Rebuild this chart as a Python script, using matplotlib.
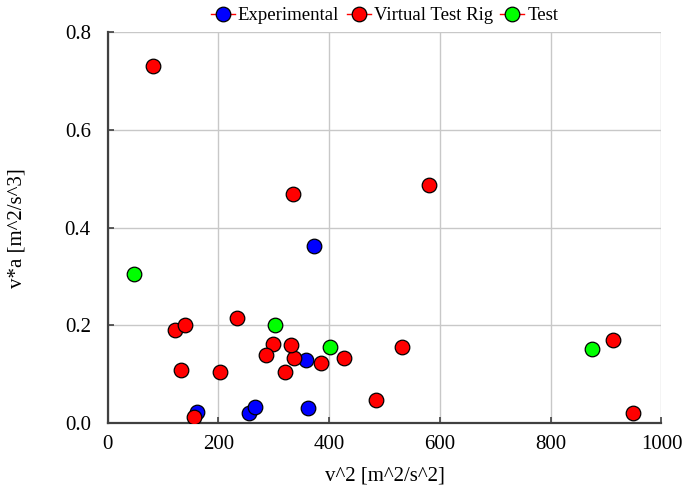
import matplotlib
matplotlib.use("Agg")
import matplotlib.pyplot as plt
from matplotlib.lines import Line2D
from matplotlib.ticker import FormatStrFormatter

plt.rcParams['font.family'] = ['Liberation Serif', 'DejaVu Serif']

exp_x = [161, 256, 266, 362.5, 358, 372]
exp_y = [0.023, 0.020, 0.033, 0.031, 0.128, 0.363]

vtr_x = [82, 334, 580, 913, 949, 531, 485, 427, 386, 337, 332, 321, 122, 140, 233, 298, 286, 133, 203, 156]
vtr_y = [0.731, 0.469, 0.488, 0.170, 0.020, 0.156, 0.046, 0.132, 0.122, 0.134, 0.160, 0.104,
         0.190, 0.200, 0.214, 0.162, 0.140, 0.109, 0.104, 0.012]

test_x = [47, 302, 402, 875]
test_y = [0.306, 0.200, 0.156, 0.152]

series_names = ["Experimental", "Virtual Test Rig", "Test"]
series_colors = ["#0000FF", "#FF0000", "#00FF00"]
x_ticks = [0, 200, 400, 600, 800, 1000]
y_ticks = [0.0, 0.2, 0.4, 0.6, 0.8]

FS = 15

fig = plt.figure(figsize=(6.83, 4.97), dpi=100)
ax = fig.add_axes([0.1574, 0.149, 0.8111, 0.786])

data = [(exp_x, exp_y), (vtr_x, vtr_y), (test_x, test_y)]
for (xs, ys), c in zip(data, series_colors):
    ax.plot(xs, ys, linestyle='none', marker='o', markersize=10.5,
            markerfacecolor=c, markeredgecolor='black', markeredgewidth=0.9, zorder=3)

ax.set_xlim(0, 1000)
ax.set_ylim(0, 0.8)
ax.set_xticks(x_ticks)
ax.set_yticks(y_ticks)
ax.yaxis.set_major_formatter(FormatStrFormatter('%.1f'))
ax.grid(True, color='#c8c8c8', linewidth=1.0, zorder=0)
ax.set_axisbelow(True)
for s in ['top', 'right']:
    ax.spines[s].set_visible(False)
for s in ['left', 'bottom']:
    ax.spines[s].set_color('#404040')
    ax.spines[s].set_linewidth(1.6)
ax.tick_params(direction='in', length=4, width=1.2, color='#404040', labelsize=FS)
ax.tick_params(axis='x', pad=9)
ax.tick_params(axis='y', pad=12)

ax.set_xlabel("v^2 [m^2/s^2]", fontsize=FS)
ax.set_ylabel("v*a [m^2/s^3]", fontsize=FS)
ax.xaxis.set_label_coords(0.5, -0.112)
ax.yaxis.set_label_coords(-0.146, 0.5)

handles = [Line2D([0], [0], color='red', linewidth=1.0, marker='o', markersize=10.5,
                  markerfacecolor=c, markeredgecolor='black', markeredgewidth=0.9)
           for c in series_colors]
ax.legend(handles, series_names, loc='center', bbox_to_anchor=(0.5, 1.042), ncol=3,
          frameon=False, fontsize=13.5, handlelength=1.28, handletextpad=0.17,
          columnspacing=0.39, borderaxespad=0.0, borderpad=0.0)

fig.savefig("out.png", dpi=100)
